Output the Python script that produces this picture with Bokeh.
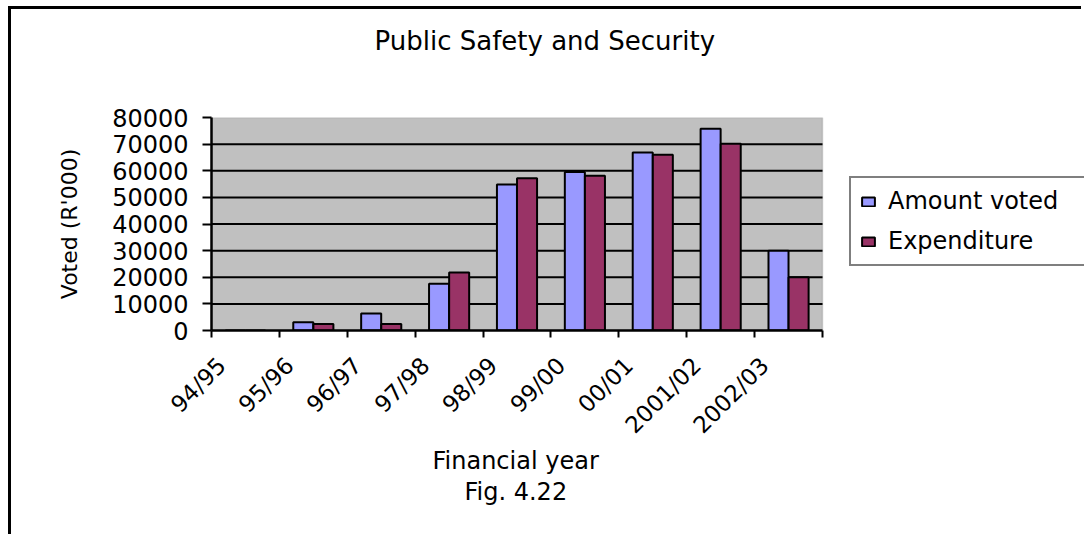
import math

from bokeh.embed import file_html
from bokeh.models import (BoxAnnotation, ColumnDataSource, FixedTicker, Legend,
                          LegendItem, Range1d, Title)
from bokeh.plotting import figure
from bokeh.resources import INLINE
from bokeh.transform import dodge

# Budget figures, R'000 per financial year
years = ["94/95", "95/96", "96/97", "97/98", "98/99", "99/00", "00/01", "2001/02", "2002/03"]
amount_voted = [0, 3100, 6400, 17600, 54800, 59500, 66900, 75800, 30000]
expenditure = [0, 2400, 2400, 21800, 57200, 58100, 66000, 70100, 20000]
y_ticks = [0, 10000, 20000, 30000, 40000, 50000, 60000, 70000, 80000]

FONT = "DejaVu Sans"
BLUE = "#9999FF"
MAROON = "#993366"

n = len(years)
centers = [i + 0.5 for i in range(n)]
boundaries = list(range(n + 1))
# rotated year labels sit slightly left of each category centre
label_pos = [round(i + 0.15, 3) for i in range(n)]

src = ColumnDataSource(dict(x=centers, voted=amount_voted, spent=expenditure))
grid_src = ColumnDataSource(dict(y=y_ticks[1:-1]))

# The frame runs to the right edge so the legend can sit beside the bars;
# the grey plot area covers only the category span.
CAT_PX = 611 / n
frame_w = 1073 - 200
p = figure(width=1073, height=528,
           x_range=Range1d(0, frame_w / CAT_PX), y_range=Range1d(0, y_ticks[-1]),
           output_backend="svg", toolbar_location=None,
           min_border_left=200, min_border_right=0,
           min_border_top=108, min_border_bottom=207)
# chart border drawn by the plot element's own CSS
p.margin = (6, 0, 0, 8)
p.styles = {"border-top": "3px solid black", "border-left": "3px solid black"}

p.background_fill_color = "white"
p.border_fill_color = "white"
p.outline_line_color = None
p.xgrid.visible = False
p.ygrid.visible = False


def text_title(text, size, offset, standoff):
    return Title(text=text, text_font=FONT, text_font_size=size, text_font_style="normal",
                 text_color="black", align="left", offset=offset, standoff=standoff)


p.title = text_title("Public Safety and Security", "26px", 163, 10)
# blank strip between the title and the plot area
p.add_layout(text_title(" ", "1px", 0, 54), "above")

# grey plot area
p.add_layout(BoxAnnotation(left=0, right=n, bottom=0, top=y_ticks[-1],
                           fill_color="#C0C0C0", fill_alpha=1,
                           line_color="#808080", line_width=1.5, level="underlay"))

# horizontal gridlines across the plot area
p.segment(x0=0, x1=n, y0="y", y1="y", source=grid_src, line_color="black", line_width=2)

bw = 0.295
r_voted = p.vbar(x=dodge("x", -0.148, range=p.x_range), top="voted", width=bw, source=src,
                 fill_color=BLUE, line_color="black", line_width=2)
r_spent = p.vbar(x=dodge("x", 0.148, range=p.x_range), top="spent", width=bw, source=src,
                 fill_color=MAROON, line_color="black", line_width=2)

# y axis
ya = p.yaxis[0]
ya.ticker = FixedTicker(ticks=y_ticks)
ya.axis_label = "Voted (R'000)"
ya.axis_label_text_font = FONT
ya.axis_label_text_font_size = "22px"
ya.axis_label_text_font_style = "normal"
ya.axis_label_text_color = "black"
ya.axis_label_standoff = 27
ya.major_label_text_font = FONT
ya.major_label_text_font_size = "24px"
ya.major_label_text_color = "black"
ya.major_label_standoff = 14
ya.axis_line_width = 2.5
ya.axis_line_color = "black"
ya.major_tick_out = 9
ya.major_tick_in = 0
ya.major_tick_line_width = 2
ya.minor_tick_out = 0
ya.minor_tick_in = 0

# x axis: ticks on category boundaries, labels rotated
xa = p.xaxis[0]
xa.bounds = (0, n)
xa.ticker = FixedTicker(ticks=label_pos, minor_ticks=boundaries)
xa.major_label_overrides = {pos: name for pos, name in zip(label_pos, years)}
xa.major_label_orientation = math.pi / 4
xa.major_label_text_font = FONT
xa.major_label_text_font_size = "23px"
xa.major_label_text_color = "black"
xa.major_label_standoff = 24
xa.major_tick_out = 0
xa.major_tick_in = 0
xa.minor_tick_out = 7
xa.minor_tick_in = 0
xa.minor_tick_line_width = 2
xa.minor_tick_line_color = "black"
xa.axis_line_width = 2.5
xa.axis_line_color = "black"

# axis caption and figure number under the year labels
p.add_layout(text_title("Financial year", "24px", 221, -12), "below")
p.add_layout(text_title("Fig. 4.22", "24px", 253, 14), "below")

legend = Legend(items=[LegendItem(label="Amount voted", renderers=[r_voted]),
                       LegendItem(label="Expenditure", renderers=[r_spent])],
                location=(638, 64), orientation="vertical",
                label_text_font=FONT, label_text_font_size="24px",
                label_text_color="black", label_height=26, label_width=190,
                label_standoff=12,
                glyph_width=16, glyph_height=11, spacing=12, padding=9, margin=0,
                border_line_color="black", border_line_width=2,
                background_fill_color="white", background_fill_alpha=1)
p.add_layout(legend)

open("out.html", "w").write(file_html(p, INLINE))
